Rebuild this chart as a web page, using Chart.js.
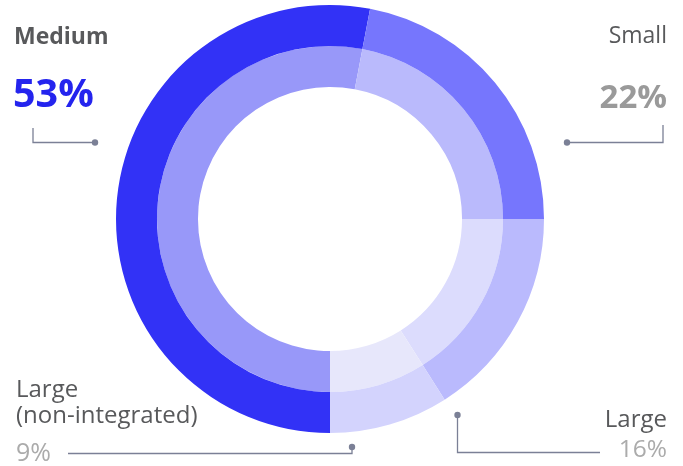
<!DOCTYPE html>
<html>
<head>
<meta charset="utf-8">
<script src="https://cdn.jsdelivr.net/npm/chart.js@4/dist/chart.umd.min.js"></script>
<style>
  body { margin: 0; background: #fff; }
  #wrap { position: relative; width: 683px; height: 466px; font-family: "Open Sans", sans-serif; }
  #wrap canvas { position: absolute; left: 0; top: 0; }
  .lbl { position: absolute; line-height: 1; white-space: nowrap; color: #58595b; }
</style>
</head>
<body>
<div id="wrap">
  <canvas id="chart" width="683" height="466"></canvas>
  <div class="lbl" style="left:14px; top:23.5px; font-size:23px; font-weight:700;">Medium</div>
  <div class="lbl" style="left:13px; top:73px; font-size:39.5px; font-weight:700; color:#2424ee;">53%</div>
  <div class="lbl" style="right:16px; top:22.5px; font-size:23px;">Small</div>
  <div class="lbl" style="right:16px; top:78.5px; font-size:33px; font-weight:700; color:#9a9a9a;">22%</div>
  <div class="lbl" style="left:16px; top:375.5px; font-size:24px;">Large</div>
  <div class="lbl" style="left:16px; top:401.5px; font-size:24px;">(non-integrated)</div>
  <div class="lbl" style="left:16px; top:439px; font-size:25px; color:#ababab;">9%</div>
  <div class="lbl" style="right:16px; top:405.5px; font-size:24px;">Large</div>
  <div class="lbl" style="right:16px; top:436px; font-size:24.5px; color:#ababab;">16%</div>
</div>
<script>
// chart data
var categories = ['Medium', 'Small', 'Large', 'Large (non-integrated)'];
var shares = [53, 22, 16, 9];
var outerColors = ['#3232f6', '#7676fd', '#babafd', '#d3d3fd'];
var innerColors = ['#9898f9', '#babafc', '#dcdcfd', '#e7e7fb'];

// leader lines from the labels to the ring
var leaders = [
    [[33, 128], [33, 142.5], [95, 142.5]],
    [[663, 125], [663, 142.5], [567, 142.5]],
    [[68, 453.5], [352, 453.5], [352, 447]],
    [[600, 452.5], [457.5, 452.5], [457.5, 415]]
];

var leaderPlugin = {
    id: 'leaders',
    afterDraw: function (chart) {
        var c = chart.ctx;
        c.save();
        c.strokeStyle = '#7b8096';
        c.fillStyle = '#7b8096';
        c.lineWidth = 1.3;
        leaders.forEach(function (pts) {
            c.beginPath();
            c.moveTo(pts[0][0], pts[0][1]);
            for (var i = 1; i < pts.length; i++) c.lineTo(pts[i][0], pts[i][1]);
            c.stroke();
            var end = pts[pts.length - 1];
            c.beginPath();
            c.arc(end[0], end[1], 3.2, 0, Math.PI * 2);
            c.fill();
        });
        c.restore();
    }
};

var ctx = document.getElementById('chart').getContext('2d');
var chart = new Chart(ctx, {
    type: 'doughnut',
    data: {
        labels: categories,
        datasets: [{
            data: shares,
            backgroundColor: outerColors,
            borderWidth: 0
        }, {
            data: shares,
            backgroundColor: innerColors,
            borderWidth: 0
        }]
    },
    options: {
        responsive: false,
        animation: false,
        rotation: 180,
        cutout: '61.7%',
        layout: { padding: { left: 116, right: 139, top: 5, bottom: 33 } },
        plugins: {
            legend: { display: false },
            tooltip: { enabled: false }
        }
    },
    plugins: [leaderPlugin]
});
</script>
</body>
</html>
